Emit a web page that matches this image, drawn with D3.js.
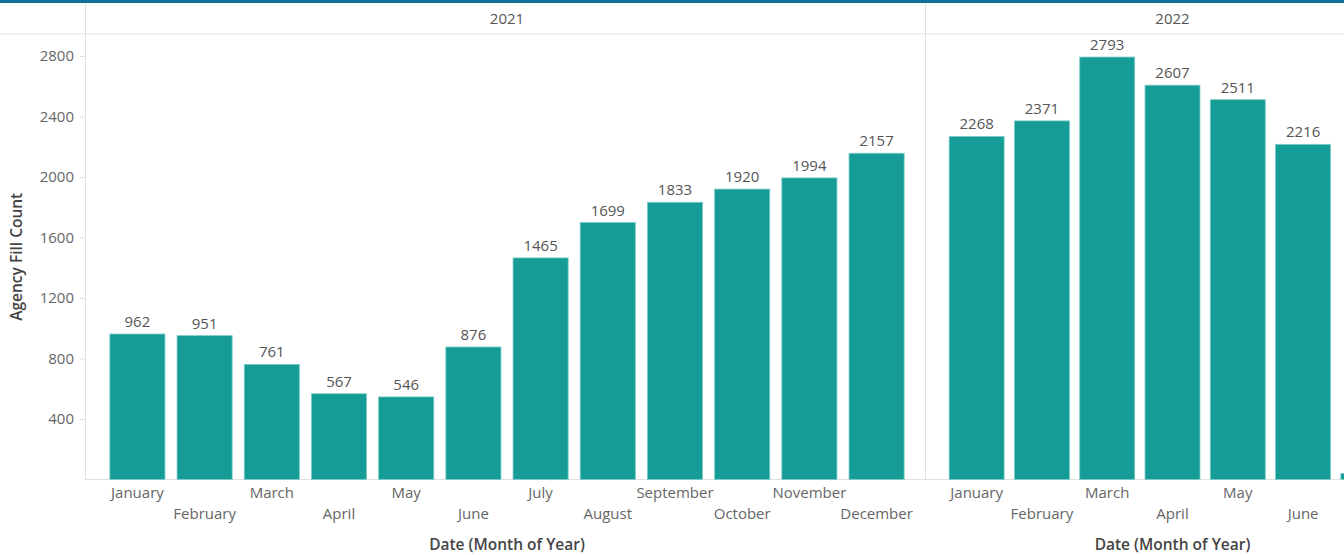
<!DOCTYPE html>
<html>
<head>
<meta charset="utf-8">
<script src="https://cdn.jsdelivr.net/npm/d3@7"></script>
<style>
  html, body { margin: 0; padding: 0; background: #fff; }
  svg { display: block; font-family: "Open Sans", sans-serif; }
</style>
</head>
<body>
<svg id="chart" width="1344" height="555"></svg>
<script>
const months2021 = ["January","February","March","April","May","June","July","August","September","October","November","December"];
const values2021 = [962, 951, 761, 567, 546, 876, 1465, 1699, 1833, 1920, 1994, 2157];
const months2022 = ["January","February","March","April","May","June","July"];
const values2022 = [2268, 2371, 2793, 2607, 2511, 2216, 40];
const years = ["2021", "2022"];
const yTicks = [400, 800, 1200, 1600, 2000, 2400, 2800];

const svg = d3.select("#chart");
const W = 1344, H = 555;
const plotTop = 34, plotBottom = 479.5, leftEdge = 85;
const gridColor = "#e0e0e0";
const barColor = "#169c97";

const y = d3.scaleLinear().domain([0, 2400]).range([plotBottom, plotBottom - 363]);

// top bar
svg.append("rect").attr("x", 0).attr("y", 0).attr("width", W).attr("height", 3).attr("fill", "#11739a");

// header separator
svg.append("line").attr("x1", 0).attr("x2", W).attr("y1", plotTop).attr("y2", plotTop)
  .attr("stroke", gridColor).attr("stroke-width", 1);

const panels = [
  { year: years[0], months: months2021, values: values2021, range: [85, 929], pi: 0.18, po: 0.37 },
  { year: years[1], months: months2022, values: values2022, range: [925, 1420], pi: 0.158, po: 0.37 }
];

// vertical lines
svg.append("line").attr("x1", leftEdge + 0.5).attr("x2", leftEdge + 0.5).attr("y1", 3).attr("y2", plotBottom)
  .attr("stroke", gridColor);
svg.append("line").attr("x1", 925.5).attr("x2", 925.5).attr("y1", 3).attr("y2", plotBottom)
  .attr("stroke", gridColor);

// y axis
const yAxis = d3.axisLeft(y).tickValues(yTicks).tickSize(5).tickPadding(6).tickFormat(d3.format("d"));
const yg = svg.append("g").attr("transform", `translate(${leftEdge},0)`).call(yAxis);
yg.select(".domain").remove();
yg.selectAll(".tick line").attr("stroke", gridColor);
yg.selectAll(".tick text").attr("fill", "#666").style("font-size", "15px").style("font-family", "Open Sans");

svg.append("text")
  .attr("transform", `translate(22,${(plotTop + plotBottom) / 2}) rotate(-90)`)
  .attr("text-anchor", "middle")
  .attr("fill", "#444").style("font-size", "15.5px").style("font-weight", 600)
  .text("Agency Fill Count");

// bottom axis line
svg.append("line").attr("x1", leftEdge).attr("x2", W).attr("y1", plotBottom).attr("y2", plotBottom)
  .attr("stroke", gridColor);

const clip = svg.append("defs").append("clipPath").attr("id", "view")
  .append("rect").attr("x", 0).attr("y", 0).attr("width", W).attr("height", H);

panels.forEach(p => {
  const x = d3.scaleBand().domain(p.months).range(p.range).paddingInner(p.pi).paddingOuter(p.po);
  const g = svg.append("g").attr("clip-path", "url(#view)");
  const center = (p.range[0] + p.range[1]) / 2;

  // header
  g.append("text").attr("x", center).attr("y", 24).attr("text-anchor", "middle")
    .attr("fill", "#555").style("font-size", "15px").text(p.year);

  // bars
  g.selectAll("rect.bar").data(p.months).enter().append("rect")
    .attr("class", "bar")
    .attr("x", d => x(d))
    .attr("width", x.bandwidth())
    .attr("y", (d, i) => y(p.values[i]))
    .attr("height", (d, i) => plotBottom - y(p.values[i]))
    .attr("fill", barColor)
    .attr("stroke", "#7ccbc6").attr("stroke-width", 0.8);

  // value labels (only those inside the visible window)
  const visible = p.months.filter(d => x(d) + x.bandwidth() / 2 < W);
  g.selectAll("text.val").data(visible).enter().append("text")
    .attr("class", "val")
    .attr("x", d => x(d) + x.bandwidth() / 2)
    .attr("y", d => y(p.values[p.months.indexOf(d)]) - 7)
    .attr("text-anchor", "middle")
    .attr("fill", "#555").style("font-size", "15px")
    .text(d => p.values[p.months.indexOf(d)]);

  // x axis
  const xAxis = d3.axisBottom(x).tickSize(0).tickPadding(0);
  const xg = g.append("g").attr("transform", `translate(0,${plotBottom})`).call(xAxis);
  xg.select(".domain").remove();
  xg.selectAll(".tick").filter(d => x(d) + x.bandwidth() / 2 >= W).remove();
  xg.selectAll(".tick text")
    .attr("fill", "#666").style("font-size", "15px").style("font-family", "Open Sans")
    .attr("dy", null)
    .attr("y", d => p.months.indexOf(d) % 2 === 0 ? 18 : 39);

  // axis title
  g.append("text").attr("x", center).attr("y", 550).attr("text-anchor", "middle")
    .attr("fill", "#444").style("font-size", "15.5px").style("font-weight", 600)
    .text("Date (Month of Year)");
});
</script>
</body>
</html>
